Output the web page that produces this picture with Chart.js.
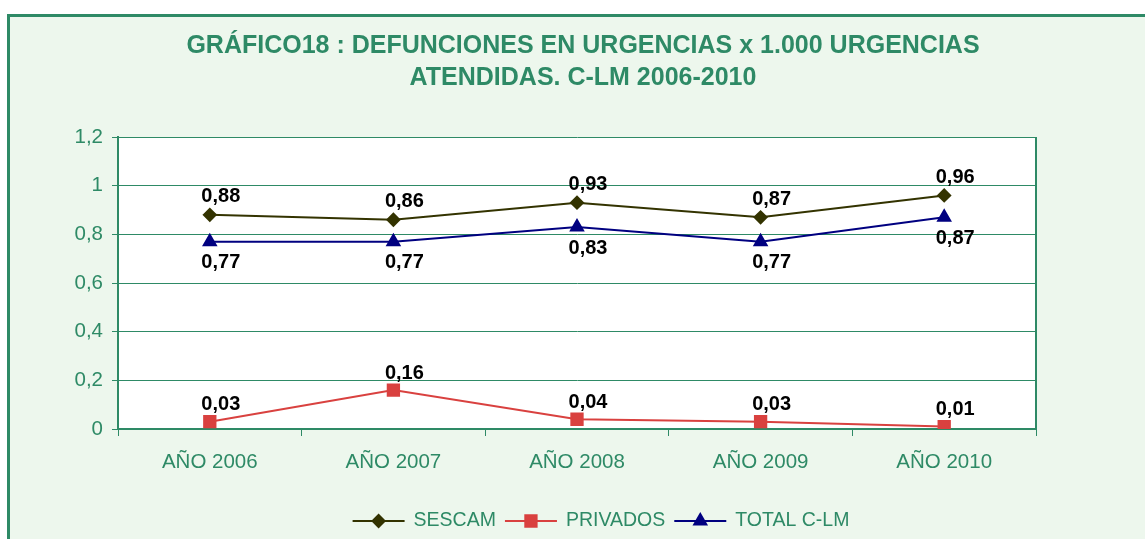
<!DOCTYPE html>
<html>
<head>
<meta charset="utf-8">
<script src="https://cdn.jsdelivr.net/npm/chart.js@4"></script>
<style>
  html, body { margin: 0; padding: 0; background: #fff; overflow: hidden; }
  #frame {
    position: absolute; left: 7px; top: 14px; width: 1200px; height: 600px;
    background: #edf7ed; border-top: 3px solid #2e8a66; border-left: 3px solid #2e8a66;
  }
  #chart { position: absolute; left: 0; top: 0; }
</style>
</head>
<body>
<div id="frame"></div>
<canvas id="chart" width="1145" height="539"></canvas>
<script>
const GREEN = '#2e8a66';

const titleLines = ['GRÁFICO18 : DEFUNCIONES EN URGENCIAS x 1.000 URGENCIAS', 'ATENDIDAS. C-LM 2006-2010'];
const years = ['AÑO 2006', 'AÑO 2007', 'AÑO 2008', 'AÑO 2009', 'AÑO 2010'];
const sescam = [0.88, 0.86, 0.93, 0.87, 0.96];
const privados = [0.03, 0.16, 0.04, 0.03, 0.01];
const totalClm = [0.77, 0.77, 0.83, 0.77, 0.87];

function fmt(v) {
    return Number(v.toFixed(2)).toString().replace('.', ',');
}

// fondo blanco del area de trazado + borde derecho
const plotBg = {
    id: 'plotBg',
    beforeDraw(chart) {
        const { ctx, chartArea: a } = chart;
        ctx.save();
        ctx.fillStyle = '#fff';
        ctx.fillRect(a.left, a.top, a.right - a.left, a.bottom - a.top);
        ctx.restore();
    },
    beforeDatasetsDraw(chart) {
        const { ctx, chartArea: a } = chart;
        ctx.save();
        ctx.strokeStyle = GREEN;
        ctx.lineWidth = 2;
        ctx.beginPath();
        ctx.moveTo(a.right, a.top);
        ctx.lineTo(a.right, a.bottom + 1);
        ctx.stroke();
        ctx.restore();
    }
};

const titleAndLegend = {
    id: 'titleAndLegend',
    afterDraw(chart) {
        const ctx = chart.ctx;
        ctx.save();
        ctx.fillStyle = GREEN;
        ctx.font = 'bold 25px "Liberation Sans", Arial, sans-serif';
        ctx.textAlign = 'center';
        ctx.textBaseline = 'middle';
        ctx.fillText(titleLines[0], 583, 46);
        ctx.fillText(titleLines[1], 583, 78);

        // etiquetas de datos
        ctx.font = 'bold 20px "Liberation Sans", Arial, sans-serif';
        ctx.fillStyle = '#000';
        chart.data.datasets.forEach((ds, i) => {
            chart.getDatasetMeta(i).data.forEach((pt, j) => {
                ctx.fillText(fmt(ds.data[j]), pt.x + 11, pt.y + ds.labelDy);
            });
        });

        // leyenda
        ctx.font = '19.5px "Liberation Sans", Arial, sans-serif';
        ctx.textAlign = 'left';
        const items = chart.data.datasets;
        let w = 0;
        items.forEach(ds => { w += 52 + 9 + ctx.measureText(ds.label).width; });
        w += 9 * (items.length - 1);
        let x = 601 - w / 2;
        const y = 521;
        items.forEach(ds => {
            ctx.strokeStyle = ds.borderColor;
            ctx.lineWidth = 2;
            ctx.beginPath();
            ctx.moveTo(x, y);
            ctx.lineTo(x + 52, y);
            ctx.stroke();
            Chart.helpers.drawPoint(ctx, {
                pointStyle: ds.pointStyle,
                radius: ds.pointRadius,
                borderWidth: 1,
                rotation: 0
            }, x + 26, y);
            ctx.fillStyle = ds.pointBackgroundColor;
            ctx.fill();
            ctx.fillStyle = GREEN;
            ctx.fillText(ds.label, x + 61, y);
            x += 52 + 9 + ctx.measureText(ds.label).width + 9;
        });
        ctx.restore();
    }
};

new Chart(document.getElementById('chart'), {
    type: 'line',
    data: {
        labels: years,
        datasets: [{
            label: 'SESCAM',
            data: sescam,
            borderColor: '#333300',
            pointBackgroundColor: '#333300',
            pointBorderColor: '#333300',
            pointStyle: 'rectRot',
            pointRadius: 6,
            borderWidth: 2,
            labelDy: -18
        }, {
            label: 'PRIVADOS',
            data: privados,
            borderColor: '#d9413f',
            pointBackgroundColor: '#d9413f',
            pointBorderColor: '#d9413f',
            pointStyle: 'rect',
            pointRadius: 8,
            borderWidth: 2,
            labelDy: -17
        }, {
            label: 'TOTAL C-LM',
            data: totalClm,
            borderColor: '#000080',
            pointBackgroundColor: '#000080',
            pointBorderColor: '#000080',
            pointStyle: 'triangle',
            pointRadius: 7,
            borderWidth: 2,
            labelDy: 21
        }]
    },
    options: {
        responsive: false,
        animation: false,
        devicePixelRatio: 1,
        layout: { padding: { left: 0, top: 137, right: 109, bottom: 0 } },
        plugins: {
            legend: { display: false },
            title: { display: false },
            tooltip: { enabled: false }
        },
        elements: { line: { tension: 0 } },
        scales: {
            x: {
                offset: true,
                grid: { drawOnChartArea: false, color: GREEN, tickLength: 7, offset: true },
                border: { color: GREEN, width: 2 },
                ticks: {
                    color: GREEN,
                    padding: 14,
                    maxRotation: 0,
                    font: { family: '"Liberation Sans", Arial, sans-serif', size: 20.5 }
                },
                afterFit(scale) { scale.height = 110; }
            },
            y: {
                min: 0,
                max: 1.2,
                grid: { color: GREEN, lineWidth: 1, tickLength: 6 },
                border: { color: GREEN, width: 2 },
                ticks: {
                    stepSize: 0.2,
                    color: GREEN,
                    padding: 9,
                    font: { family: '"Liberation Sans", Arial, sans-serif', size: 20.5 },
                    callback: v => fmt(v)
                },
                afterFit(scale) { scale.width = 118; }
            }
        }
    },
    plugins: [plotBg, titleAndLegend]
});
</script>
</body>
</html>
